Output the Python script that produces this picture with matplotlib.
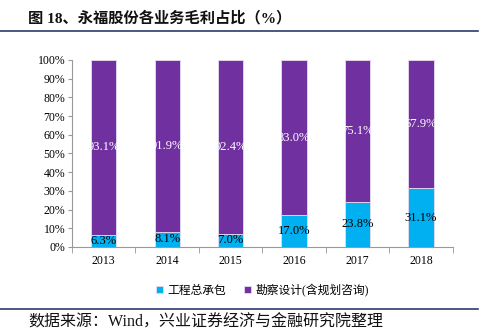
import numpy as np
import matplotlib.pyplot as plt
from matplotlib.lines import Line2D

plt.rcParams['font.family'] = ['Liberation Serif', 'Noto Sans CJK SC']

years = ['2013', '2014', '2015', '2016', '2017', '2018']
zongchengbao = [6.3, 8.1, 7.0, 17.0, 23.8, 31.1]
kancha = [93.1, 91.9, 92.4, 83.0, 75.1, 67.9]
c_cyan = '#00B0F0'
c_purple = '#7030A0'

a = np.array(zongchengbao)
b = np.array(kancha)
tot = a + b
a_n = a / tot * 100
b_n = b / tot * 100

fig = plt.figure(figsize=(4.9, 3.31), dpi=100)
ax = fig.add_axes([0.147, 0.254, 0.777, 0.565])
x = np.arange(len(years))
w = 0.4
ax.bar(x, a_n, w, color=c_cyan, edgecolor='#E6DDF0', linewidth=0.6, label='工程总承包')
ax.bar(x, b_n, w, bottom=a_n, color=c_purple, edgecolor='#E6DDF0', linewidth=0.6, label='勘察设计(含规划咨询)')

for i in range(len(years)):
    ax.text(x[i], a_n[i] / 2, f'{a[i]:.1f}%', ha='center', va='center', fontsize=9, color='black')
    ax.text(x[i], a_n[i] + b_n[i] / 2, f'{b[i]:.1f}%', ha='center', va='center', fontsize=9, color='white')

ax.set_xlim(-0.5, len(years) - 0.5)
ax.set_ylim(0, 100)
ax.set_yticks(np.arange(0, 101, 10))
ax.set_yticklabels([f'{v}%' for v in range(0, 101, 10)], fontsize=8.5)
ax.set_xticks(x)
ax.set_xticklabels(years, fontsize=8.5)
ax.tick_params(axis='x', length=0, pad=6)
ax.set_xticks(np.arange(-0.5, len(years)), minor=True)
ax.tick_params(axis='x', which='minor', length=4, color='#999999')
ax.tick_params(axis='y', length=3, color='#999999', pad=2)
for s in ['top', 'right']:
    ax.spines[s].set_visible(False)
for s in ['left', 'bottom']:
    ax.spines[s].set_color('#999999')
    ax.spines[s].set_linewidth(0.8)

ax.legend(loc='upper center', bbox_to_anchor=(0.5, -0.14), ncol=2, frameon=False,
          fontsize=8.5, handlelength=0.6, handleheight=0.6, columnspacing=1.5, handletextpad=0.4)

fig.text(0.057, 0.945, '图 18、永福股份各业务毛利占比（%）', fontsize=11, fontweight='bold',
         va='center', ha='left', color='#111111')
fig.add_artist(Line2D([0.0, 0.976], [0.906, 0.906], color='#2E3A6E', linewidth=1.2))
fig.add_artist(Line2D([0.0, 0.976], [0.066, 0.066], color='#2E3A6E', linewidth=1.2))
fig.text(0.057, 0.027, '数据来源：Wind，兴业证券经济与金融研究院整理', fontsize=11.5,
         va='center', ha='left', color='#111111')

fig.savefig('out.png', dpi=100)
